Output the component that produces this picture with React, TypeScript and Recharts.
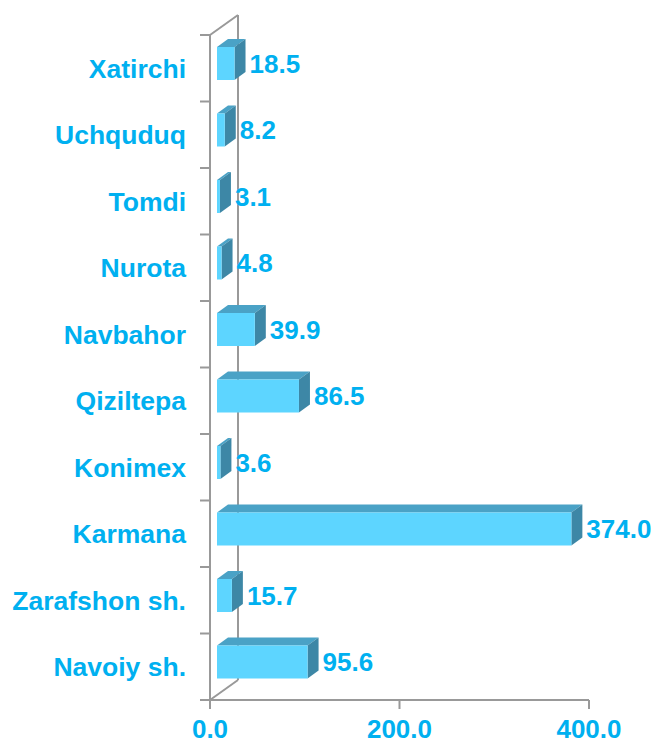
import React from 'react';
import { BarChart, Bar, XAxis, YAxis, LabelList } from 'recharts';

const districts = ['Xatirchi', 'Uchquduq', 'Tomdi', 'Nurota', 'Navbahor', 'Qiziltepa', 'Konimex', 'Karmana', 'Zarafshon sh.', 'Navoiy sh.'];
const amounts = [18.5, 8.2, 3.1, 4.8, 39.9, 86.5, 3.6, 374.0, 15.7, 95.6];
const xTicks = [0, 200, 400];

const data = districts.map((name, i) => ({ name, value: amounts[i] }));

const W = 651;
const H = 736;
const M = { top: 27, right: 70, left: 0, bottom: 0 };
const Y_W = 202;
const X_H = 44;
const plotLeft = M.left + Y_W;
const plotTop = M.top;
const plotBottom = H - M.bottom - X_H;
const band = (plotBottom - plotTop) / districts.length;

// 3D depth offsets
const WALL_DX = 28;
const WALL_DY = 20;
const SHIFT_X = 7;
const SHIFT_Y = 5;
const DEPTH_X = 11;
const DEPTH_Y = 8;

const BLUE = '#00B0F0';
const GRID = '#999999';
const FONT = '"Liberation Sans", Arial, sans-serif';
const FS = 26;
const CAT_FS = 26.5;

const Bar3D = (props: any) => {
  const { x, y, width, height } = props;
  const fx = x + SHIFT_X;
  const fy = y - SHIFT_Y;
  const w = Math.max(width, 0);
  return (
    <g>
      <polygon
        points={`${fx},${fy} ${fx + DEPTH_X},${fy - DEPTH_Y} ${fx + w + DEPTH_X},${fy - DEPTH_Y} ${fx + w},${fy}`}
        fill="#4AA2C6"
      />
      <polygon
        points={`${fx + w},${fy} ${fx + w + DEPTH_X},${fy - DEPTH_Y} ${fx + w + DEPTH_X},${fy + height - DEPTH_Y} ${fx + w},${fy + height}`}
        fill="#3D87A6"
      />
      <rect x={fx} y={fy} width={w} height={height} fill="#5DD5FF" />
    </g>
  );
};

const ValueLabel = (props: any) => {
  const { x, y, width, height, value } = props;
  return (
    <text
      x={x + width + SHIFT_X + DEPTH_X + 4}
      y={y - SHIFT_Y + height / 2}
      dy="0.36em"
      fill={BLUE}
      fontSize={FS}
      fontWeight="bold"
      fontFamily={FONT}
    >
      {Number(value).toFixed(1)}
    </text>
  );
};

const CategoryTick = (props: any) => {
  const { y, payload, index } = props;
  return (
    <g>
      <line x1={plotLeft - 10} x2={plotLeft} y1={y - band / 2} y2={y - band / 2} stroke={GRID} strokeWidth={2} />
      {index === districts.length - 1 && (
        <line x1={plotLeft - 10} x2={plotLeft} y1={y + band / 2} y2={y + band / 2} stroke={GRID} strokeWidth={2} />
      )}
      <text
        x={plotLeft - 24}
        y={y}
        dy="0.36em"
        textAnchor="end"
        fill={BLUE}
        fontSize={CAT_FS}
        fontWeight="bold"
        fontFamily={FONT}
      >
        {payload.value}
      </text>
    </g>
  );
};

const BackWall = () => (
  <svg width={W} height={H} style={{ position: 'absolute', left: 0, top: 0 }}>
    <line x1={plotLeft} y1={plotTop} x2={plotLeft + WALL_DX} y2={plotTop - WALL_DY} stroke={GRID} strokeWidth={2} />
    <line x1={plotLeft + WALL_DX} y1={plotTop - WALL_DY} x2={plotLeft + WALL_DX} y2={plotBottom - WALL_DY} stroke={GRID} strokeWidth={2} />
    <line x1={plotLeft} y1={plotBottom} x2={plotLeft + WALL_DX} y2={plotBottom - WALL_DY} stroke={GRID} strokeWidth={2} />
  </svg>
);

export default function App() {
  return (
    <div style={{ position: 'relative', width: W, height: H }}>
      <BackWall />
      <BarChart width={W} height={H} data={data} layout="vertical" margin={M}>
        <XAxis
          type="number"
          domain={[0, 400]}
          ticks={xTicks}
          height={X_H}
          tickFormatter={(v: number) => v.toFixed(1)}
          axisLine={{ stroke: GRID, strokeWidth: 2 }}
          tickLine={{ stroke: GRID, strokeWidth: 2 }}
          tickSize={9}
          tickMargin={11}
          tick={{ fill: BLUE, fontSize: FS, fontWeight: 'bold', fontFamily: FONT }}
        />
        <YAxis
          type="category"
          dataKey="name"
          width={Y_W}
          axisLine={{ stroke: GRID, strokeWidth: 2 }}
          tickLine={false}
          tick={<CategoryTick />}
          interval={0}
        />
        <Bar dataKey="value" barSize={33} shape={<Bar3D />} isAnimationActive={false}>
          <LabelList dataKey="value" content={<ValueLabel />} />
        </Bar>
      </BarChart>
    </div>
  );
}
